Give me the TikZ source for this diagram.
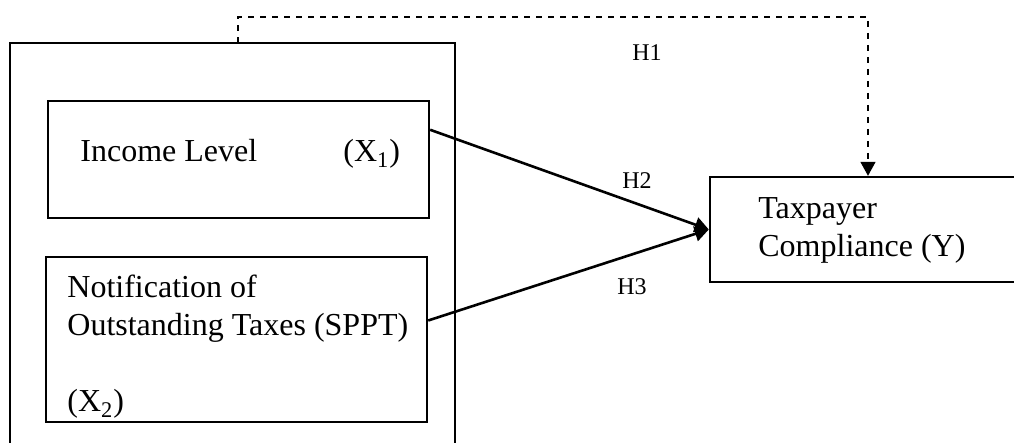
\documentclass[tikz,border=0pt]{standalone}
\usepackage{fontspec}
\setmainfont{Liberation Serif}
\usetikzlibrary{arrows.meta}
\tikzset{
	x=0.5pt,
	y=-0.5pt,
	>={Triangle[length=7pt,width=7.5pt]},
	box/.style={
		draw=black,
		line width=1.2pt,
		inner sep=0pt
	},
	txt/.style={
		anchor=base west,
		inner sep=0pt,
		align=left,
		font=\fontsize{16}{19}\selectfont
	},
	hyp/.style={
		inner sep=0pt,
		font=\fontsize{12}{14}\selectfont
	},
	link/.style={->, line width=1.3pt}
}

\begin{document}
\begin{tikzpicture}
	\useasboundingbox (0,0) rectangle (1014,443);
	% frame round both variables, open at the bottom
	\draw [line width=1.2pt] (10,460) -- (10,43) -- (455,43) -- (455,460);
	\coordinate (frametop) at (238,43);

	\node [box, minimum width=190.5pt, minimum height=58.5pt] (income) at (238.5,159.5) {};
	\node [txt] (incomelbl) at (80,162) {Income Level};
	\node [txt] (incomevar) at (343,162) {(X\textsubscript{1})};

	\node [box, minimum width=190.5pt, minimum height=82.5pt] (sppt) at (236.5,339.5) {};
	\node [txt] (spptlbl) at (67,412) {Notification of\\Outstanding Taxes (SPPT)\\[19pt](X\textsubscript{2})};

	\node [box, minimum width=158pt, minimum height=52.5pt] (comply) at (868,229.5) {};
	\node [txt] (complylbl) at (758,257) {Taxpayer\\Compliance (Y)};

	\draw [->, dashed, line width=0.8pt] (frametop) -- ++(0,-26) -| (comply.north);
	\draw [link] (income.north east) ++(0,30) -- (comply.west);
	\draw [link] (sppt.east) ++(0,-19) -- (comply.west);

	\node [hyp] (h1) at (647,53) {H1};
	\node [hyp] (h2) at (637,181) {H2};
	\node [hyp] (h3) at (632,287) {H3};
\end{tikzpicture}
\end{document}
